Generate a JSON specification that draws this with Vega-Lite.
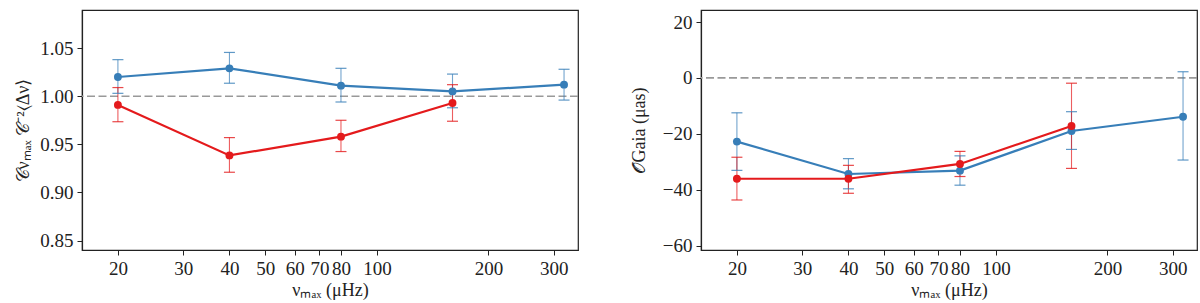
{
  "$schema": "https://vega.github.io/schema/vega-lite/v6.json",
  "autosize": {"type": "pad"},
  "padding": {"left": 14, "top": 9, "right": 0, "bottom": 0},
  "bounds": "flush",
  "spacing": 123,
  "config": {
    "font": "Liberation Serif",
    "view": {"stroke": "#222", "strokeWidth": 1.2},
    "axis": {
      "grid": false,
      "domainColor": "#222",
      "domainWidth": 1.2,
      "tickColor": "#222",
      "tickWidth": 1,
      "tickSize": 5,
      "labelColor": "#222",
      "titleColor": "#222",
      "labelFont": "Liberation Serif",
      "titleFont": "Liberation Serif",
      "labelFontSize": 19,
      "titleFontSize": 18,
      "titleFontWeight": "normal",
      "labelPadding": 4
    }
  },
  "datasets": {
    "left": [
      {"series": "A", "nu": 20, "value": 1.020, "lo": 1.003, "hi": 1.038},
      {"series": "A", "nu": 40, "value": 1.029, "lo": 1.0135, "hi": 1.0455},
      {"series": "A", "nu": 80, "value": 1.011, "lo": 0.994, "hi": 1.029},
      {"series": "A", "nu": 160, "value": 1.005, "lo": 0.988, "hi": 1.023},
      {"series": "A", "nu": 320, "value": 1.012, "lo": 0.996, "hi": 1.028},
      {"series": "B", "nu": 20, "value": 0.991, "lo": 0.9735, "hi": 1.009},
      {"series": "B", "nu": 40, "value": 0.9385, "lo": 0.921, "hi": 0.957},
      {"series": "B", "nu": 80, "value": 0.958, "lo": 0.9425, "hi": 0.975},
      {"series": "B", "nu": 160, "value": 0.993, "lo": 0.974, "hi": 1.012}
    ],
    "right": [
      {"series": "A", "nu": 20, "value": -22.8, "lo": -33.1, "hi": -12.5},
      {"series": "A", "nu": 40, "value": -34.4, "lo": -39.7, "hi": -28.9},
      {"series": "A", "nu": 80, "value": -33.2, "lo": -38.4, "hi": -27.9},
      {"series": "A", "nu": 160, "value": -19.0, "lo": -25.6, "hi": -12.1},
      {"series": "A", "nu": 320, "value": -13.9, "lo": -29.4, "hi": 2.2},
      {"series": "B", "nu": 20, "value": -36.1, "lo": -43.7, "hi": -28.4},
      {"series": "B", "nu": 40, "value": -36.1, "lo": -41.3, "hi": -31.3},
      {"series": "B", "nu": 80, "value": -30.8, "lo": -35.3, "hi": -26.3},
      {"series": "B", "nu": 160, "value": -17.2, "lo": -32.4, "hi": -1.9}
    ]
  },
  "hconcat": [
    {
      "width": 496,
      "height": 240,
      "layer": [
        {
          "data": {"values": [{"ref": 1}]},
          "mark": {"type": "rule", "color": "#999999", "strokeWidth": 1.6, "strokeDash": [8, 3.5]},
          "encoding": {
            "y": {"field": "ref", "type": "quantitative", "scale": {"domain": [0.8402, 1.0896], "nice": false, "zero": false},
              "axis": {"values": [0.85, 0.9, 0.95, 1.0, 1.05], "format": ".2f", "title": "𝒞νₘₐₓ 𝒞⁻²⟨Δν⟩", "titlePadding": 7}}
          }
        },
        {
          "data": {"name": "left"},
          "mark": {"type": "rule", "strokeWidth": 1.1, "opacity": 0.7},
          "encoding": {
            "x": {"field": "nu", "type": "quantitative", "scale": {"type": "log", "domain": [16, 349], "nice": false},
              "axis": {"values": [20, 30, 40, 50, 60, 70, 80, 100, 200, 300], "format": "d", "title": "νₘₐₓ (μHz)", "titlePadding": 3}},
            "y": {"field": "lo", "type": "quantitative"},
            "y2": {"field": "hi"},
            "color": {"field": "series", "type": "nominal", "scale": {"domain": ["A", "B"], "range": ["#377eb8", "#e41a1c"]}, "legend": null}
          }
        },
        {
          "data": {"name": "left"},
          "mark": {"type": "tick", "orient": "horizontal", "size": 11, "thickness": 1.2, "opacity": 0.8},
          "encoding": {
            "x": {"field": "nu", "type": "quantitative"},
            "y": {"field": "lo", "type": "quantitative"},
            "color": {"field": "series", "type": "nominal", "legend": null}
          }
        },
        {
          "data": {"name": "left"},
          "mark": {"type": "tick", "orient": "horizontal", "size": 11, "thickness": 1.2, "opacity": 0.8},
          "encoding": {
            "x": {"field": "nu", "type": "quantitative"},
            "y": {"field": "hi", "type": "quantitative"},
            "color": {"field": "series", "type": "nominal", "legend": null}
          }
        },
        {
          "data": {"name": "left"},
          "mark": {"type": "line", "strokeWidth": 2.2},
          "encoding": {
            "x": {"field": "nu", "type": "quantitative"},
            "y": {"field": "value", "type": "quantitative"},
            "color": {"field": "series", "type": "nominal", "legend": null}
          }
        },
        {
          "data": {"name": "left"},
          "mark": {"type": "circle", "size": 62, "opacity": 1},
          "encoding": {
            "x": {"field": "nu", "type": "quantitative"},
            "y": {"field": "value", "type": "quantitative"},
            "color": {"field": "series", "type": "nominal", "legend": null}
          }
        }
      ]
    },
    {
      "width": 496,
      "height": 240,
      "layer": [
        {
          "data": {"values": [{"ref": 0}]},
          "mark": {"type": "rule", "color": "#999999", "strokeWidth": 1.6, "strokeDash": [8, 3.5]},
          "encoding": {
            "y": {"field": "ref", "type": "quantitative", "scale": {"domain": [-61.6, 24.3], "nice": false, "zero": false},
              "axis": {"values": [-60, -40, -20, 0, 20], "format": "d", "title": "𝒪Gaia (μas)", "titlePadding": 14}}
          }
        },
        {
          "data": {"name": "right"},
          "mark": {"type": "rule", "strokeWidth": 1.1, "opacity": 0.7},
          "encoding": {
            "x": {"field": "nu", "type": "quantitative", "scale": {"type": "log", "domain": [16, 349], "nice": false},
              "axis": {"values": [20, 30, 40, 50, 60, 70, 80, 100, 200, 300], "format": "d", "title": "νₘₐₓ (μHz)", "titlePadding": 3}},
            "y": {"field": "lo", "type": "quantitative"},
            "y2": {"field": "hi"},
            "color": {"field": "series", "type": "nominal", "scale": {"domain": ["A", "B"], "range": ["#377eb8", "#e41a1c"]}, "legend": null}
          }
        },
        {
          "data": {"name": "right"},
          "mark": {"type": "tick", "orient": "horizontal", "size": 11, "thickness": 1.2, "opacity": 0.8},
          "encoding": {
            "x": {"field": "nu", "type": "quantitative"},
            "y": {"field": "lo", "type": "quantitative"},
            "color": {"field": "series", "type": "nominal", "legend": null}
          }
        },
        {
          "data": {"name": "right"},
          "mark": {"type": "tick", "orient": "horizontal", "size": 11, "thickness": 1.2, "opacity": 0.8},
          "encoding": {
            "x": {"field": "nu", "type": "quantitative"},
            "y": {"field": "hi", "type": "quantitative"},
            "color": {"field": "series", "type": "nominal", "legend": null}
          }
        },
        {
          "data": {"name": "right"},
          "mark": {"type": "line", "strokeWidth": 2.2},
          "encoding": {
            "x": {"field": "nu", "type": "quantitative"},
            "y": {"field": "value", "type": "quantitative"},
            "color": {"field": "series", "type": "nominal", "legend": null}
          }
        },
        {
          "data": {"name": "right"},
          "mark": {"type": "circle", "size": 62, "opacity": 1},
          "encoding": {
            "x": {"field": "nu", "type": "quantitative"},
            "y": {"field": "value", "type": "quantitative"},
            "color": {"field": "series", "type": "nominal", "legend": null}
          }
        }
      ]
    }
  ]
}
